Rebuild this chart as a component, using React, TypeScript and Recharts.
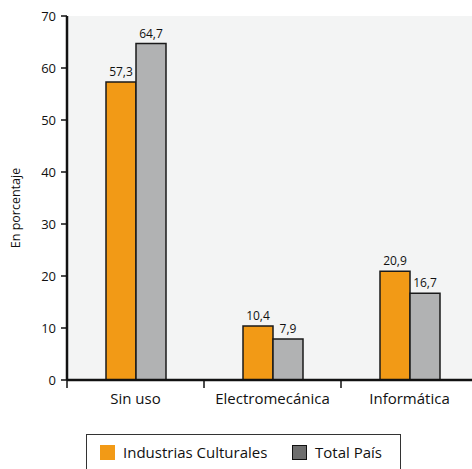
import React from 'react';
import { BarChart, Bar, XAxis, YAxis, CartesianGrid, LabelList, Label } from 'recharts';

const categories = ['Sin uso', 'Electromecánica', 'Informática'];
const culturales = [57.3, 10.4, 20.9];
const totalPais = [64.7, 7.9, 16.7];
const yTicks = [0, 10, 20, 30, 40, 50, 60, 70];

const data = categories.map((name, i) => ({ name, culturales: culturales[i], total: totalPais[i] }));

const W = 490;
const H = 469;
const Y_W = 67;
const M = { top: 16, right: 12, left: 0, bottom: 59 };
const step = (W - M.left - M.right - Y_W) / categories.length;
const FONT = '"Open Sans", sans-serif';
const INK = '#111';

const fmt = (v: number) => String(v).replace('.', ',');

const CatTick = (props: any) => {
  const { x, y, payload } = props;
  const bx = x - step / 2;
  return (
    <g>
      <line x1={bx} y1={y - 8} x2={bx} y2={y} stroke={INK} strokeWidth={1.5} />
      <text x={x} y={y + 16} textAnchor="middle" fontSize={15} fill={INK} fontFamily={FONT}>
        {payload.value}
      </text>
    </g>
  );
};

export default function App() {
  return (
    <div style={{ position: 'fixed', left: 0, top: 0, width: 472, height: 469, overflow: 'hidden', background: '#fff', fontFamily: FONT }}>
      <BarChart width={W} height={H} data={data} margin={M} barSize={30} barGap={0}>
        <CartesianGrid fill="#f3f4f4" horizontal={false} vertical={false} />
        <XAxis
          dataKey="name"
          axisLine={{ stroke: INK, strokeWidth: 2.5 }}
          tickLine={false}
          tick={<CatTick />}
          height={30}
          interval={0}
        />
        <YAxis
          width={Y_W}
          domain={[0, 70]}
          ticks={yTicks}
          axisLine={{ stroke: INK, strokeWidth: 2.5 }}
          tickLine={{ stroke: INK, strokeWidth: 1.5 }}
          tickSize={6}
          tickMargin={5}
          tick={{ fontSize: 13, fill: INK, fontFamily: FONT }}
        >
          <Label
            value="En porcentaje"
            angle={-90}
            position="insideLeft"
            offset={16}
            dy={10}
            style={{ textAnchor: 'middle', fontSize: 12.5, fill: INK, fontFamily: FONT }}
          />
        </YAxis>
        <Bar dataKey="culturales" fill="#f29a16" stroke="#1a1a1a" strokeWidth={1.5} isAnimationActive={false}>
          <LabelList dataKey="culturales" position="top" offset={6} formatter={fmt} style={{ fontSize: 12, fill: INK, fontFamily: FONT }} />
        </Bar>
        <Bar dataKey="total" fill="#b1b2b3" stroke="#1a1a1a" strokeWidth={1.5} isAnimationActive={false}>
          <LabelList dataKey="total" position="top" offset={6} formatter={fmt} style={{ fontSize: 12, fill: INK, fontFamily: FONT }} />
        </Bar>
      </BarChart>
      <div
        style={{
          position: 'absolute',
          left: 86,
          top: 434,
          width: 315,
          height: 50,
          border: '1px solid #333',
          boxSizing: 'border-box',
          fontSize: 15,
          color: INK,
        }}
      >
        <div style={{ position: 'absolute', left: 13, top: 10, width: 15, height: 15, background: '#f29a16' }} />
        <span style={{ position: 'absolute', left: 36, top: 7, whiteSpace: 'nowrap' }}>Industrias Culturales</span>
        <div style={{ position: 'absolute', left: 205, top: 10, width: 13, height: 13, background: '#6e6e6e', border: '1px solid #111' }} />
        <span style={{ position: 'absolute', left: 228, top: 7, whiteSpace: 'nowrap' }}>Total País</span>
      </div>
    </div>
  );
}
